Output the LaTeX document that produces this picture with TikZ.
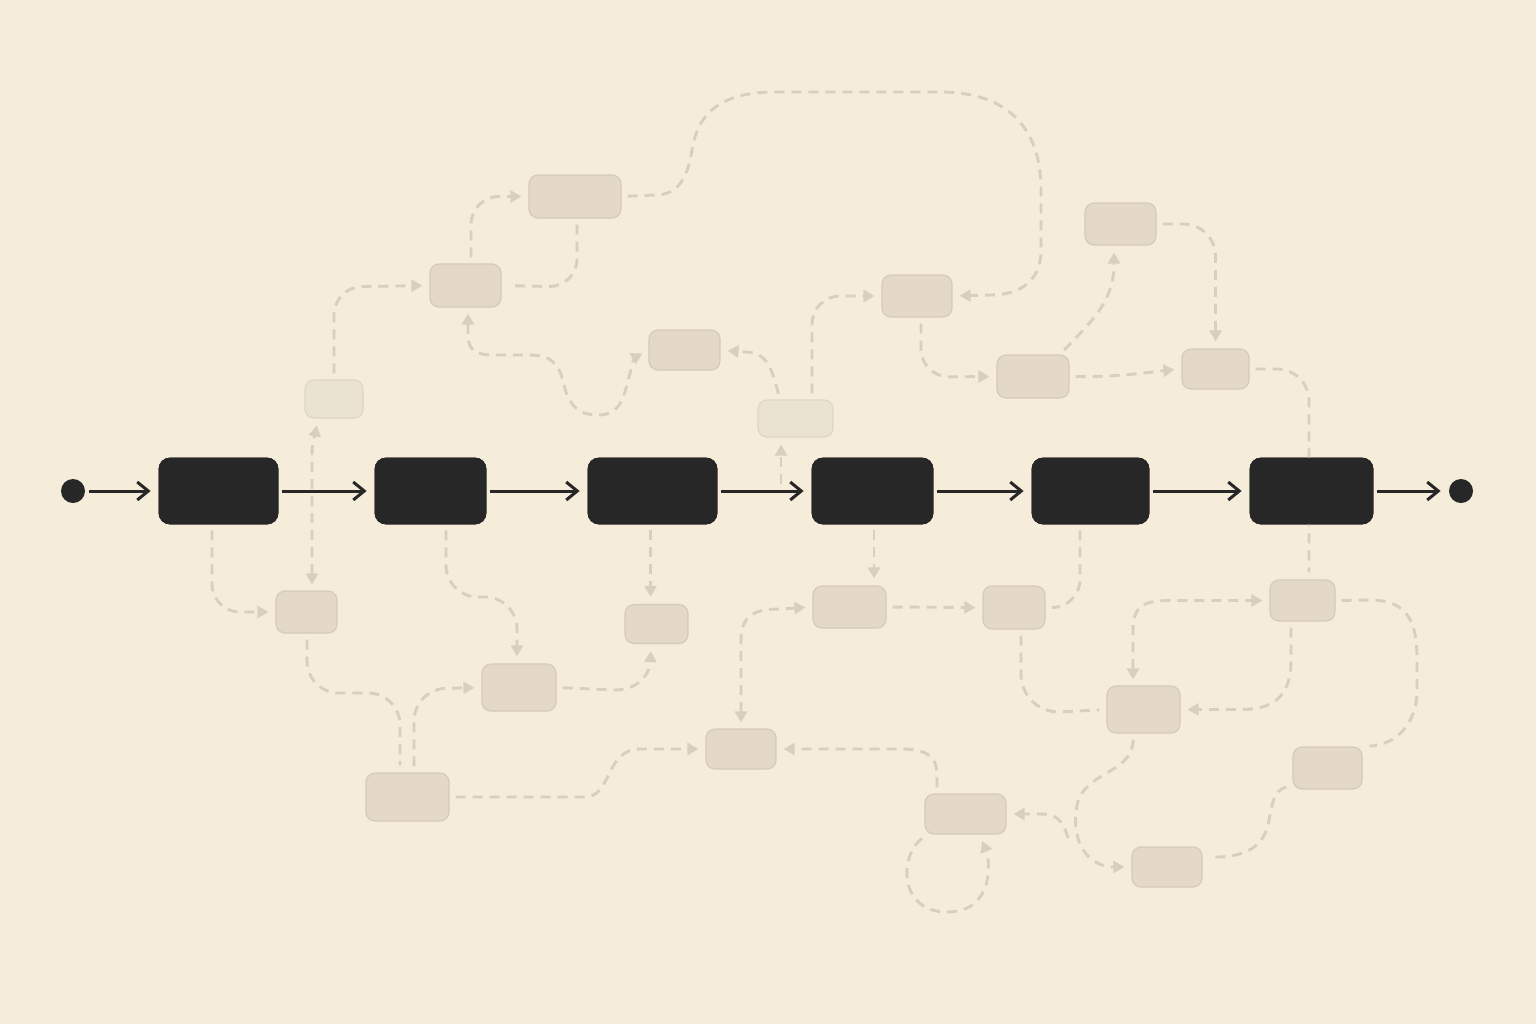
\documentclass[tikz,border=0pt]{standalone}
\usetikzlibrary{arrows.meta,calc}
\definecolor{bgc}{HTML}{F5ECDA}
\definecolor{dashc}{HTML}{D9CFBC}
\definecolor{lboxf}{HTML}{E3D9C6}
\definecolor{lboxd}{HTML}{D6CBB8}
\definecolor{pboxf}{HTML}{EBE3D2}
\definecolor{pboxd}{HTML}{DFD6C4}
\definecolor{inkc}{HTML}{272727}
\tikzset{
  conn/.style={draw=dashc, line width=1.45pt, dash pattern=on 5pt off 3.5pt, shorten <=3pt, shorten >=3.5pt},
  arr/.style={-{Triangle[length=5.5pt,width=6pt]}},
  barr/.style={{Triangle[length=5.5pt,width=6pt]}-{Triangle[length=5.5pt,width=6pt]}},
  lbox/.style n args={2}{draw=lboxd, fill=lboxf, line width=0.6pt, rounded corners=4.5pt, minimum width=#1*0.5pt, minimum height=#2*0.5pt, inner sep=0pt},
  pbox/.style n args={2}{draw=pboxd, fill=pboxf, line width=0.6pt, rounded corners=4.5pt, minimum width=#1*0.5pt, minimum height=#2*0.5pt, inner sep=0pt},
  bbox/.style={fill=inkc, draw=inkc, rounded corners=5.5pt, minimum height=33pt, inner sep=0pt},
  dotnode/.style={circle, fill=inkc, minimum size=12pt, inner sep=0pt},
  mainarrow/.style={draw=inkc, line width=1.5pt, shorten <=2pt, shorten >=4pt, -{Straight Barb[length=5.5pt,width=9pt]}}
}
\begin{document}
\begin{tikzpicture}[x=0.5pt,y=-0.5pt]
\fill[bgc] (0,0) rectangle (1536,1024);
\useasboundingbox (0,0) rectangle (1536,1024);

% light boxes
\node[pbox={58}{38}] (L1) at (334,399) {};
\node[lbox={71}{43}] (L2) at (465.5,285.5) {};
\node[lbox={92}{43}] (L3) at (575,196.5) {};
\node[lbox={71}{40}] (L4) at (684.5,350) {};
\node[pbox={75}{37}] (L5) at (795.5,418.5) {};
\node[lbox={70}{42}] (L6) at (917,296) {};
\node[lbox={72}{43}] (L7) at (1033,376.5) {};
\node[lbox={71}{42}] (L8) at (1120.5,224) {};
\node[lbox={67}{40}] (L9) at (1215.5,369) {};
\node[lbox={61}{42}] (L10) at (306.5,612) {};
\node[lbox={74}{47}] (L11) at (519,687.5) {};
\node[lbox={63}{39}] (L12) at (656.5,624) {};
\node[lbox={83}{48}] (L13) at (407.5,797) {};
\node[lbox={70}{40}] (L14) at (741,749) {};
\node[lbox={73}{42}] (L15) at (849.5,607) {};
\node[lbox={62}{43}] (L16) at (1014,607.5) {};
\node[lbox={81}{40}] (L17) at (965.5,814) {};
\node[lbox={73}{47}] (L18) at (1143.5,709.5) {};
\node[lbox={65}{41}] (L19) at (1302.5,600.5) {};
\node[lbox={69}{42}] (L20) at (1327.5,768) {};
\node[lbox={70}{40}] (L21) at (1167,867) {};

% main row nodes (positions for anchors)
\node[dotnode] (S) at (73,491) {};
\node[bbox, minimum width=59.5pt] (B1) at (218.5,491) {};
\node[bbox, minimum width=55.5pt] (B2) at (430.5,491) {};
\node[bbox, minimum width=64.5pt] (B3) at (652.5,491) {};
\node[bbox, minimum width=60.5pt] (B4) at (872.5,491) {};
\node[bbox, minimum width=58.5pt] (B5) at (1090.5,491) {};
\node[bbox, minimum width=61.5pt] (B6) at (1311.5,491) {};
\node[dotnode] (E) at (1461,491) {};
\coordinate (c8) at (781,484);
\coordinate (br) at (1068,838);

% dashed connectors, upper part
\draw[conn,barr] ($(L10.north)+(5.5,0)$) -- (312,455) .. controls (312,440) and (315,435) .. ($(L1.south)+(-16,0)$);
\draw[conn,arr,rounded corners=14pt] (L1.north) -- (334,287) -- (L2.west);
\draw[conn,arr,rounded corners=14pt] ($(L2.north)+(5.5,0)$) -- (471,196.5) -- (L3.west);
\draw[conn,rounded corners=14pt] ($(L3.south)+(2,0)$) -- (577,287) -- (L2.east);
\draw[conn,arr] (L3.east) -- (655,195) .. controls (680,195) and (688,175) .. (692,150) .. controls (698,110) and (725,92) .. (775,92) -- (940,92) .. controls (1010,92) and (1041,130) .. (1041,190) -- (1041,250) .. controls (1041,285) and (1015,295) .. (990,295) -- (L6.east);
\draw[conn,arr,rounded corners=14pt] ($(L5.north)+(16.5,0)$) -- (812,296) -- (L6.west);
\draw[conn,arr] ($(L5.north)+(-15.5,0)$) .. controls (772,370) and (768,352) .. (745,352) -- (L4.east);
\draw[conn,arr,shorten <=0pt] (c8) -- ($(L5.south)+(-14.5,0)$);
\draw[conn,barr] ($(L2.south)+(2.5,0)$) -- (468,335) .. controls (468,352) and (478,355) .. (495,355) -- (530,355) .. controls (555,355) and (560,368) .. (564,385) .. controls (569,405) and (578,415) .. (598,415) .. controls (618,415) and (622,402) .. (627,385) .. controls (631,370) and (634,358) .. (L4.west);
\draw[conn,arr,rounded corners=14pt] ($(L6.south)+(4,0)$) -- (921,377) -- (L7.west);
\draw[conn,arr] (L7.east) .. controls (1120,377) and (1150,372) .. (L9.west);
\draw[conn,arr] ($(L7.north)+(27,0)$) .. controls (1095,318) and (1114,300) .. ($(L8.south)+(-6.5,0)$);
\draw[conn,arr,rounded corners=16pt] (L8.east) -- (1215.5,224) -- (L9.north);
\draw[conn,rounded corners=16pt] (L9.east) -- (1309,369) -- ($(L19.north)+(6.5,0)$);

% dashed connectors, lower part
\draw[conn,arr,rounded corners=14pt] ($(B1.south)+(-6.5,0)$) -- (212,612) -- (L10.west);
\draw[conn,arr,rounded corners=16pt] ($(B2.south)+(15.5,0)$) -- (446,597) -- (517,597) -- ($(L11.north)+(-2,0)$);
\draw[conn,arr] ($(B3.south)+(-2,0)$) -- ($(L12.north)+(-6,0)$);
\draw[conn,rounded corners=16pt] ($(L10.south)+(0.5,0)$) -- (307,693) -- (400,693) -- ($(L13.north)+(-7.5,0)$);
\draw[conn,arr,rounded corners=16pt] ($(L13.north)+(6.5,0)$) -- (414,689) -- (L11.west);
\draw[conn,arr] (L11.east) -- (615,690) .. controls (640,690) and (650,672) .. ($(L12.south)+(-5.5,0)$);
\draw[conn,arr] (L13.east) -- (585,797) .. controls (612,797) and (605,749) .. (640,749) -- (L14.west);
\draw[conn,barr] (L14.north) -- (741,640) .. controls (741,615) and (755,609) .. (780,609) -- (L15.west);
\draw[conn,arr] ($(B4.south)+(1.5,0)$) -- ($(L15.north)+(24.5,0)$);
\draw[conn,arr] (L15.east) -- (L16.west);
\draw[conn,rounded corners=14pt] ($(B5.south)+(-10.5,0)$) -- (1080,607.5) -- (L16.east);
\draw[conn,rounded corners=20pt] ($(L16.south)+(7,0)$) -- (1021,714) -- (L18.west);
\draw[conn,arr] ($(L17.north)+(-28.5,0)$) -- (937,775) .. controls (937,755) and (925,749) .. (900,749) -- (L14.east);
\draw[conn,arr] ($(L17.south west)+(2,0)$) .. controls (898,858) and (900,912) .. (947,912) .. controls (995,912) and (990,860) .. ($(L17.south)+(14,0)$);
\draw[conn,arr] ($(L18.south)+(-10,0)$) .. controls (1132,775) and (1085,770) .. (1077,805) .. controls (1070,845) and (1090,867) .. (L21.west);
\draw[conn,arr,shorten <=0pt] (br) .. controls (1062,818) and (1055,814) .. (1040,814) -- (L17.east);
\draw[conn,barr] ($(L18.north)+(-10.5,0)$) -- (1133,630) .. controls (1133,605) and (1145,600.5) .. (1170,600.5) -- (L19.west);
\draw[conn,arr] ($(L19.south)+(-11.5,0)$) -- (1291,660) .. controls (1291,700) and (1270,709.5) .. (1240,709.5) -- (L18.east);
\draw[conn] (L19.east) -- (1370,600) .. controls (1410,600) and (1417,625) .. (1417,660) -- (1417,690) .. controls (1417,725) and (1395,745) .. (L20.north east);
\draw[conn] ($(L20.west)+(0,18)$) .. controls (1272,790) and (1272,808) .. (1268,825) .. controls (1262,850) and (1240,857) .. (1215,857) -- ($(L21.east)+(0,-10)$);

% main row on top
\node[bbox, minimum width=59.5pt] at (B1) {};
\node[bbox, minimum width=55.5pt] at (B2) {};
\node[bbox, minimum width=64.5pt] at (B3) {};
\node[bbox, minimum width=60.5pt] at (B4) {};
\node[bbox, minimum width=58.5pt] at (B5) {};
\node[bbox, minimum width=61.5pt] at (B6) {};
\draw[mainarrow] (S) -- (B1);
\draw[mainarrow] (B1) -- (B2);
\draw[mainarrow] (B2) -- (B3);
\draw[mainarrow] (B3) -- (B4);
\draw[mainarrow] (B4) -- (B5);
\draw[mainarrow] (B5) -- (B6);
\draw[mainarrow] (B6) -- (E);
\end{tikzpicture}
\end{document}
